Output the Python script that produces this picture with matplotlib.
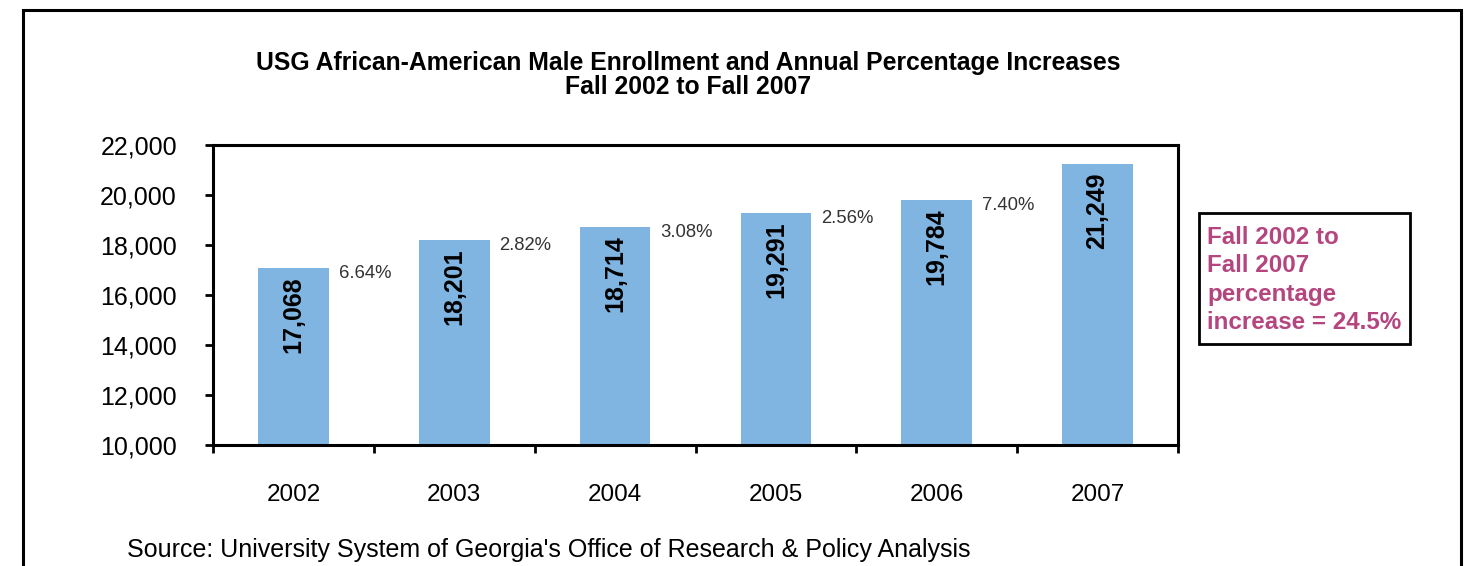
import matplotlib.pyplot as plt
from matplotlib.patches import Rectangle

plt.rcParams['font.family'] = ['Liberation Sans', 'DejaVu Sans']

# data
years = ['2002', '2003', '2004', '2005', '2006', '2007']
enrollment = [17068, 18201, 18714, 19291, 19784, 21249]
pct_labels = ['6.64%', '2.82%', '3.08%', '2.56%', '7.40%']
y_ticks = [10000, 12000, 14000, 16000, 18000, 20000, 22000]

W, H = 1477, 566
fig = plt.figure(figsize=(W / 100, H / 100), dpi=100)

# outer frame (bottom runs off the image)
fig.patches.append(Rectangle((23 / W, -0.05), (1461 - 23) / W, (H - 10) / H + 0.05,
                             transform=fig.transFigure, fill=False,
                             edgecolor='black', linewidth=2.2))

ax = fig.add_axes([213 / W, (H - 445) / H, (1178 - 213) / W, 300 / H])

x = range(len(years))
bars = ax.bar(x, enrollment, width=0.44, color='#80B4E1', zorder=2)

ax.set_xlim(-0.5, len(years) - 0.5)
ax.set_ylim(10000, 22000)
ax.set_yticks(y_ticks)
ax.set_yticklabels([f'{v:,}' for v in y_ticks], fontsize=18)
ax.set_xticks(list(x))
ax.set_xticklabels(years, fontsize=17.5)
ax.set_xticks([i - 0.5 for i in range(len(years) + 1)], minor=True)
ax.tick_params(axis='x', which='major', length=0, pad=28)
ax.tick_params(axis='x', which='minor', length=6, width=2, direction='out')
ax.tick_params(axis='y', length=6, width=2, direction='out', pad=20)
for s in ax.spines.values():
    s.set_linewidth(2.2)

# value labels inside bars
for i, v in enumerate(enrollment):
    ax.annotate(f'{v:,}', (i, v), xytext=(0, -6), textcoords='offset points',
                rotation=90, ha='center', va='top', fontsize=18, fontweight='bold')

# annual percentage increase labels
for i, lab in enumerate(pct_labels):
    ax.annotate(lab, (i + 0.22, enrollment[i]), xytext=(7, -4),
                textcoords='offset points', ha='left', va='center',
                fontsize=13.3, color='#333333')

fig.text(688 / W, 1 - 75 / H,
         'USG African-American Male Enrollment and Annual Percentage Increases\nFall 2002 to Fall 2007',
         ha='center', va='center', fontsize=17.8, fontweight='bold', linespacing=1.05)

fig.text(1207 / W, 1 - 280 / H,
         'Fall 2002 to\nFall 2007\npercentage\nincrease = 24.5%',
         ha='left', va='center', fontsize=17.4, fontweight='bold', color='#B4457F',
         linespacing=1.3)
fig.patches.append(Rectangle((1199 / W, 1 - 344 / H), (1410 - 1199) / W, 131 / H,
                             transform=fig.transFigure, fill=False,
                             edgecolor='black', linewidth=2))

fig.text(127 / W, 1 - 550 / H,
         "Source: University System of Georgia's Office of Research & Policy Analysis",
         ha='left', va='center', fontsize=18)

fig.savefig('out.png', dpi=100)
